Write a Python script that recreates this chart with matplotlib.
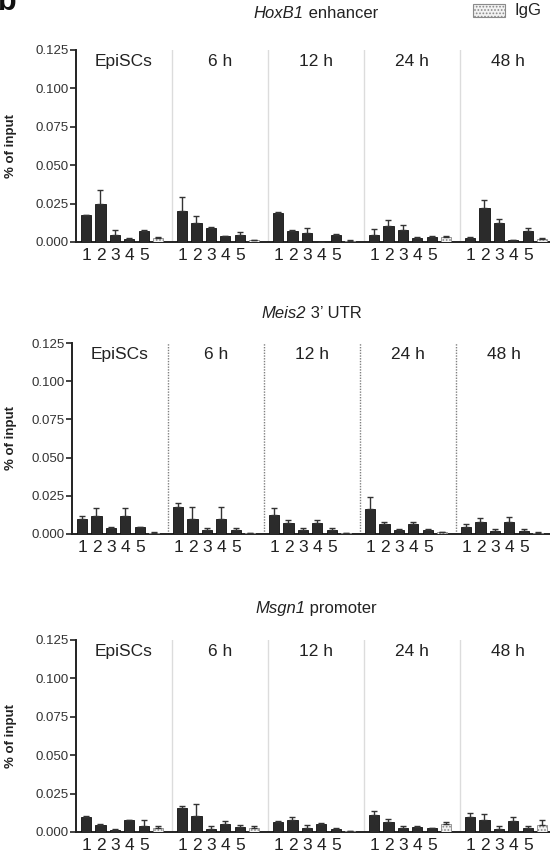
import matplotlib
matplotlib.use("Agg")
import matplotlib.pyplot as plt
from matplotlib.patches import Rectangle
import numpy as np

plt.rcParams['font.family'] = ['Liberation Sans', 'DejaVu Sans']
plt.rcParams['hatch.color'] = '#9a9a9a'
plt.rcParams['hatch.linewidth'] = 0.8

# ---------------- data ----------------
groups = ["EpiSCs", "6 h", "12 h", "24 h", "48 h"]
bar_labels = ["1", "2", "3", "4", "5"]          # 6th bar per group = IgG
yticks = [0.000, 0.025, 0.050, 0.075, 0.100, 0.125]

titles = [("HoxB1", " enhancer"), ("Meis2", " 3’ UTR"), ("Msgn1", " promoter")]

hoxb1_vals = [[0.0178, 0.0248, 0.0043, 0.0017, 0.0072, 0.0024],
              [0.0202, 0.0126, 0.0091, 0.0037, 0.0048, 0.0011],
              [0.0187, 0.0074, 0.0061, 0.0000, 0.0048, 0.0007],
              [0.0046, 0.0102, 0.0080, 0.0024, 0.0033, 0.0033],
              [0.0026, 0.0224, 0.0124, 0.0011, 0.0070, 0.0022]]
hoxb1_err = [[0.0000, 0.0089, 0.0037, 0.0007, 0.0004, 0.0006],
             [0.0088, 0.0046, 0.0005, 0.0002, 0.0019, 0.0004],
             [0.0011, 0.0002, 0.0032, 0.0000, 0.0004, 0.0004],
             [0.0039, 0.0041, 0.0030, 0.0007, 0.0004, 0.0007],
             [0.0004, 0.0048, 0.0024, 0.0004, 0.0021, 0.0002]]

meis2_vals = [[0.0100, 0.0117, 0.0041, 0.0115, 0.0043, 0.0009],
              [0.0178, 0.0100, 0.0024, 0.0100, 0.0024, 0.0007],
              [0.0126, 0.0074, 0.0026, 0.0074, 0.0026, 0.0004],
              [0.0161, 0.0063, 0.0024, 0.0063, 0.0024, 0.0011],
              [0.0043, 0.0076, 0.0017, 0.0076, 0.0017, 0.0009]]
meis2_err = [[0.0017, 0.0053, 0.0004, 0.0055, 0.0002, 0.0004],
             [0.0024, 0.0078, 0.0015, 0.0078, 0.0013, 0.0000],
             [0.0044, 0.0019, 0.0015, 0.0019, 0.0013, 0.0000],
             [0.0080, 0.0015, 0.0009, 0.0015, 0.0011, 0.0000],
             [0.0022, 0.0031, 0.0018, 0.0033, 0.0018, 0.0004]]

msgn1_vals = [[0.0095, 0.0045, 0.0015, 0.0078, 0.0037, 0.0024],
              [0.0153, 0.0101, 0.0022, 0.0050, 0.0030, 0.0026],
              [0.0067, 0.0075, 0.0026, 0.0050, 0.0017, 0.0009],
              [0.0110, 0.0065, 0.0026, 0.0032, 0.0024, 0.0052],
              [0.0097, 0.0080, 0.0019, 0.0073, 0.0028, 0.0043]]
msgn1_err = [[0.0008, 0.0007, 0.0007, 0.0002, 0.0038, 0.0015],
             [0.0015, 0.0080, 0.0015, 0.0021, 0.0015, 0.0015],
             [0.0004, 0.0024, 0.0017, 0.0007, 0.0011, 0.0000],
             [0.0026, 0.0021, 0.0011, 0.0007, 0.0004, 0.0013],
             [0.0026, 0.0036, 0.0018, 0.0024, 0.0009, 0.0037]]

panels = [(hoxb1_vals, hoxb1_err), (meis2_vals, meis2_err), (msgn1_vals, msgn1_err)]

# ---------------- layout ----------------
W, H = 550, 857
fig = plt.figure(figsize=(W / 100, H / 100), dpi=100)
renderer = fig.canvas.get_renderer()

# (left px, top px, bottom px, title offset px, separator style)
boxes = [(76, 50, 242, 37, dict(color='#dcdcdc', lw=1.0, ls='-')),
         (72, 343, 534, 30, dict(color='#808080', lw=1.0, ls=(0, (1, 1)))),
         (76, 640, 832, 32, dict(color='#dcdcdc', lw=1.0, ls='-'))]
GW = 96.0            # group width px
UNIT = 14.4          # bar slot px
G = GW / UNIT        # group width in data units
BW = 0.7
dark = '#2b2b2b'
txt = '#222222'

for (vals, errs), (lpx, tpx, bpx, toff, sep), (t_it, t_rm) in zip(panels, boxes, titles):
    wpx = GW * len(groups)
    ax = fig.add_axes([lpx / W, 1 - bpx / H, wpx / W, (bpx - tpx) / H])
    ax.set_xlim(0, G * len(groups))
    ax.set_ylim(0, 0.125)
    tick_pos, tick_lab = [], []
    for g in range(len(groups)):
        x0 = g * G + 0.7
        xs = x0 + np.arange(6)
        v = np.array(vals[g])
        e = np.array(errs[g])
        ax.bar(xs[:5], v[:5], width=BW, color=dark, edgecolor='#111111', lw=0.6, zorder=3)
        ax.bar(xs[5:], v[5:], width=BW, color='#f2f2f2', edgecolor='#8a8a8a', lw=0.6,
               hatch='.....', zorder=3)
        ax.errorbar(xs, v, yerr=[np.zeros(6), e], fmt='none', ecolor='#333333',
                    elinewidth=1.0, capsize=2.0, capthick=1.0, zorder=4)
        tick_pos += list(xs[:5])
        tick_lab += bar_labels
        ax.text(g * G + G / 2, 0.94, groups[g], transform=ax.get_xaxis_transform(),
                ha='center', va='center', fontsize=12.5, color=txt)
        if g > 0:
            ax.axvline(g * G, zorder=1, **sep)
    ax.set_xticks(tick_pos)
    ax.set_xticklabels(tick_lab, fontsize=12.5, color=txt)
    ax.tick_params(axis='x', length=0, pad=4)
    ax.set_yticks(yticks)
    ax.set_yticklabels([f"{t:.3f}" for t in yticks], fontsize=9.5, color='#333333')
    ax.tick_params(axis='y', length=4, width=1.2, color='#222222', pad=1.5, direction='out')
    for s in ['top', 'right']:
        ax.spines[s].set_visible(False)
    for s in ['left', 'bottom']:
        ax.spines[s].set_linewidth(1.4)
        ax.spines[s].set_color('#222222')
    ax.set_ylabel("% of input", fontsize=9.5, fontweight='bold', color=txt, labelpad=8)
    ax.yaxis.set_label_coords(-(lpx - 17) / wpx, 0.5)

    # title: italic gene name + upright remainder, centred over the axes
    cx_px = lpx + wpx / 2
    cy = 1 - (tpx - toff) / H
    a = fig.text(0, cy, t_it, fontsize=12, style='italic', ha='left', va='center', color=txt)
    b = fig.text(0, cy, t_rm, fontsize=12, ha='left', va='center', color=txt)
    wa = a.get_window_extent(renderer).width
    wb = b.get_window_extent(renderer).width
    start = cx_px - (wa + wb) / 2
    a.set_x(start / W)
    b.set_x((start + wa) / W)

# panel letter
fig.text(-0.004, 1 - 10 / H, "b", fontsize=22, fontweight='bold', ha='left', va='baseline', color='#111111')

# legend for IgG
fig.patches.append(Rectangle((473 / W, 1 - 17 / H), 32 / W, 13 / H, transform=fig.transFigure,
                             facecolor='#f2f2f2', edgecolor='#8a8a8a', lw=0.8, hatch='.....'))
fig.text(515 / W, 1 - 11 / H, "IgG", fontsize=12, ha='left', va='center', color=txt)

fig.savefig("out.png", dpi=100)
